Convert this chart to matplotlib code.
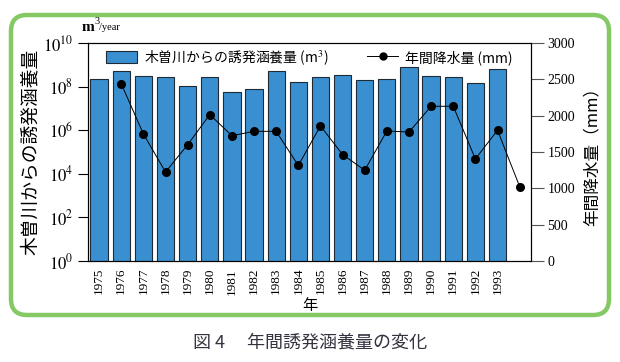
import numpy as np
import matplotlib
matplotlib.use("Agg")
import matplotlib.pyplot as plt
from matplotlib.patches import FancyBboxPatch, Patch
from matplotlib.lines import Line2D

plt.rcParams['font.family'] = ['Noto Sans CJK JP', 'DejaVu Sans']
plt.rcParams['mathtext.fontset'] = 'stix'

# 誘発涵養量 (m3/year)
years = np.arange(1975, 1994)
recharge = [2.2e8, 5.2e8, 3.2e8, 2.9e8, 1.07e8, 2.7e8, 5.5e7, 8.0e7, 5.0e8, 1.7e8,
            2.9e8, 3.5e8, 2.0e8, 2.2e8, 7.7e8, 3.2e8, 2.7e8, 1.5e8, 6.6e8]

# 年間降水量 (mm) 1976-1994
rain_years = np.arange(1976, 1995)
rain = [2440, 1750, 1225, 1600, 2015, 1725, 1785, 1785, 1315, 1860,
        1465, 1250, 1790, 1775, 2130, 2130, 1405, 1800, 1025]

serif = 'Liberation Serif'

fig = plt.figure(figsize=(6.2, 3.62), dpi=100)

# 緑の枠
frame = FancyBboxPatch((0.11, 0.47), 5.98, 3.0,
                       boxstyle="round,pad=0,rounding_size=0.16",
                       transform=fig.dpi_scale_trans, fill=False,
                       edgecolor='#84c964', linewidth=3.2, zorder=0)
fig.patches.append(frame)

ax = fig.add_axes([0.142, 0.279, 0.714, 0.602])
x = years - 1975
ax.bar(x, recharge, width=0.78, color='#3a8fd0', edgecolor='#1e2a35',
       linewidth=0.8, zorder=2)
ax.set_yscale('log')
ax.set_ylim(1, 1e10)
ax.set_xlim(-0.5, 19.5)
ax.set_yticks([10.0**k for k in range(0, 11, 2)])
ax.yaxis.set_minor_locator(matplotlib.ticker.NullLocator())
ax.set_yticklabels([r'$10^{%d}$' % k for k in range(0, 11, 2)], fontsize=12)
ax.set_xticks(x)
ax.set_xticklabels([str(y) for y in years], rotation=90, fontsize=9.5,
                   family=serif)
ax.tick_params(axis='x', length=0, pad=5)
ax.tick_params(axis='y', direction='out', length=7, width=0.8)
ax.set_xlabel('年', fontsize=11, labelpad=2)
ax.set_ylabel('木曽川からの誘発涵養量', fontsize=13.5, labelpad=2)

ax2 = ax.twinx()
ax2.plot(rain_years - 1975, rain, color='black', linewidth=0.7,
         marker='o', markersize=5.5, zorder=3)
ax2.set_ylim(0, 3000)
ax2.set_yticks(range(0, 3001, 500))
ax2.set_yticklabels([str(v) for v in range(0, 3001, 500)], family=serif,
                    fontsize=10)
ax2.tick_params(axis='y', direction='out', length=9, width=0.8,
                color='#555555', pad=3)
ax2.set_ylabel('年間降水量（mm）', fontsize=12, labelpad=6)

fig.text(0.132, 0.913, 'm', family=serif, fontsize=11, fontweight='bold')
fig.text(0.152, 0.934, '3', family=serif, fontsize=7.5)
fig.text(0.159, 0.916, '/year', family=serif, fontsize=7.5)

handles = [Patch(facecolor='#3a8fd0', edgecolor='#1e2a35', linewidth=0.8),
           Line2D([], [], color='black', linewidth=0.7, marker='o',
                  markersize=5)]
labels = ['木曽川からの誘発涵養量 (m$^3$)', '年間降水量 (mm)']
ax2.legend(handles, labels, loc='upper center', ncol=2, frameon=False,
           fontsize=10, bbox_to_anchor=(0.5, 1.035), columnspacing=2.8,
           handlelength=2.2, handleheight=0.9, handletextpad=0.5)

fig.text(0.5, 0.04, '図 4　 年間誘発涵養量の変化', ha='center',
         fontsize=13, color='#333340')

fig.savefig('out.png', dpi=100)
